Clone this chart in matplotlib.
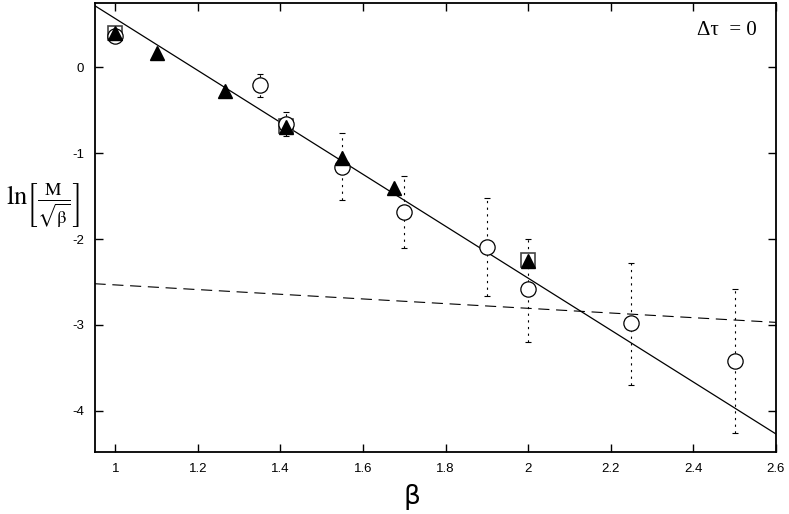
import matplotlib
matplotlib.use("Agg")
import matplotlib.pyplot as plt
import numpy as np

# Data
circ_beta = [1.0, 1.35, 1.414, 1.55, 1.70, 1.90, 2.00, 2.25, 2.50]
circ_val  = [0.37, -0.20, -0.66, -1.16, -1.69, -2.09, -2.58, -2.98, -3.42]
circ_up   = [0.42, -0.08, -0.52, -0.77, -1.27, -1.52, -2.00, -2.28, -2.58]
circ_lo   = [0.34, -0.34, -0.80, -1.55, -2.10, -2.66, -3.20, -3.70, -4.26]

tri_beta = [1.0, 1.10, 1.265, 1.414, 1.55, 1.675, 2.00]
tri_val  = [0.40, 0.17, -0.28, -0.70, -1.06, -1.40, -2.25]

sq_beta = [1.0, 1.414, 2.00]
sq_val  = [0.40, -0.68, -2.24]

fit_beta   = [0.95, 2.6]
solid_fit  = [0.72, -4.27]
dashed_fit = [-2.52, -2.97]

xticks = [1, 1.2, 1.4, 1.6, 1.8, 2, 2.2, 2.4, 2.6]
xtick_labels = ['1', '1.2', '1.4', '1.6', '1.8', '2', '2.2', '2.4', '2.6']
yticks = [0, -1, -2, -3, -4]
ytick_labels = ['0', '-1', '-2', '-3', '-4']

plt.rcParams['mathtext.fontset'] = 'stix'

fig = plt.figure(figsize=(7.89, 5.14), dpi=100)
ax = fig.add_axes([0.1204, 0.1206, 0.8631, 0.8736])

ax.plot(fit_beta, solid_fit, color='black', lw=0.9, zorder=2)
ax.plot(fit_beta, dashed_fit, color='black', lw=0.8, dashes=(10, 6), zorder=2)

circ_val_a = np.array(circ_val)
yerr = np.vstack([circ_val_a - np.array(circ_lo), np.array(circ_up) - circ_val_a])
eb = ax.errorbar(circ_beta, circ_val, yerr=yerr, fmt='none', ecolor='black',
                 elinewidth=0.8, capsize=2, capthick=0.8, zorder=3)
for lc in eb[2]:
    lc.set_linestyle((0, (2, 4)))

ax.plot(sq_beta, sq_val, 's', ms=10, mfc='white', mec='#444444', mew=1.2, zorder=4)
ax.plot(circ_beta, circ_val, 'o', ms=11, mfc='white', mec='black', mew=0.9, zorder=5)
ax.plot(tri_beta, tri_val, '^', ms=10, mfc='black', mec='black', zorder=6)

ax.set_xlim(0.951, 2.6)
ax.set_ylim(-4.48, 0.75)
ax.set_xticks(xticks)
ax.set_xticklabels(xtick_labels, family='Liberation Sans', fontsize=9.5)
ax.set_yticks(yticks)
ax.set_yticklabels(ytick_labels, family='Liberation Sans', fontsize=9.5)
ax.tick_params(direction='in', top=True, right=True, length=6, width=1.0, pad=8)
for s in ax.spines.values():
    s.set_linewidth(1.3)

ax.text(2.48, 0.43, 'Δτ  = 0', family='Liberation Serif', fontsize=15,
        ha='center', va='center')

fig.text(0.007, 0.60, r'$\mathrm{ln}\left[\frac{\mathrm{M}}{\sqrt{\mathrm{\beta}}}\right]$',
         fontsize=19, ha='left', va='center')
fig.text(0.522, 0.033, 'β', family='DejaVu Sans', fontsize=19, ha='center', va='center')

fig.savefig('out.png', dpi=100)
